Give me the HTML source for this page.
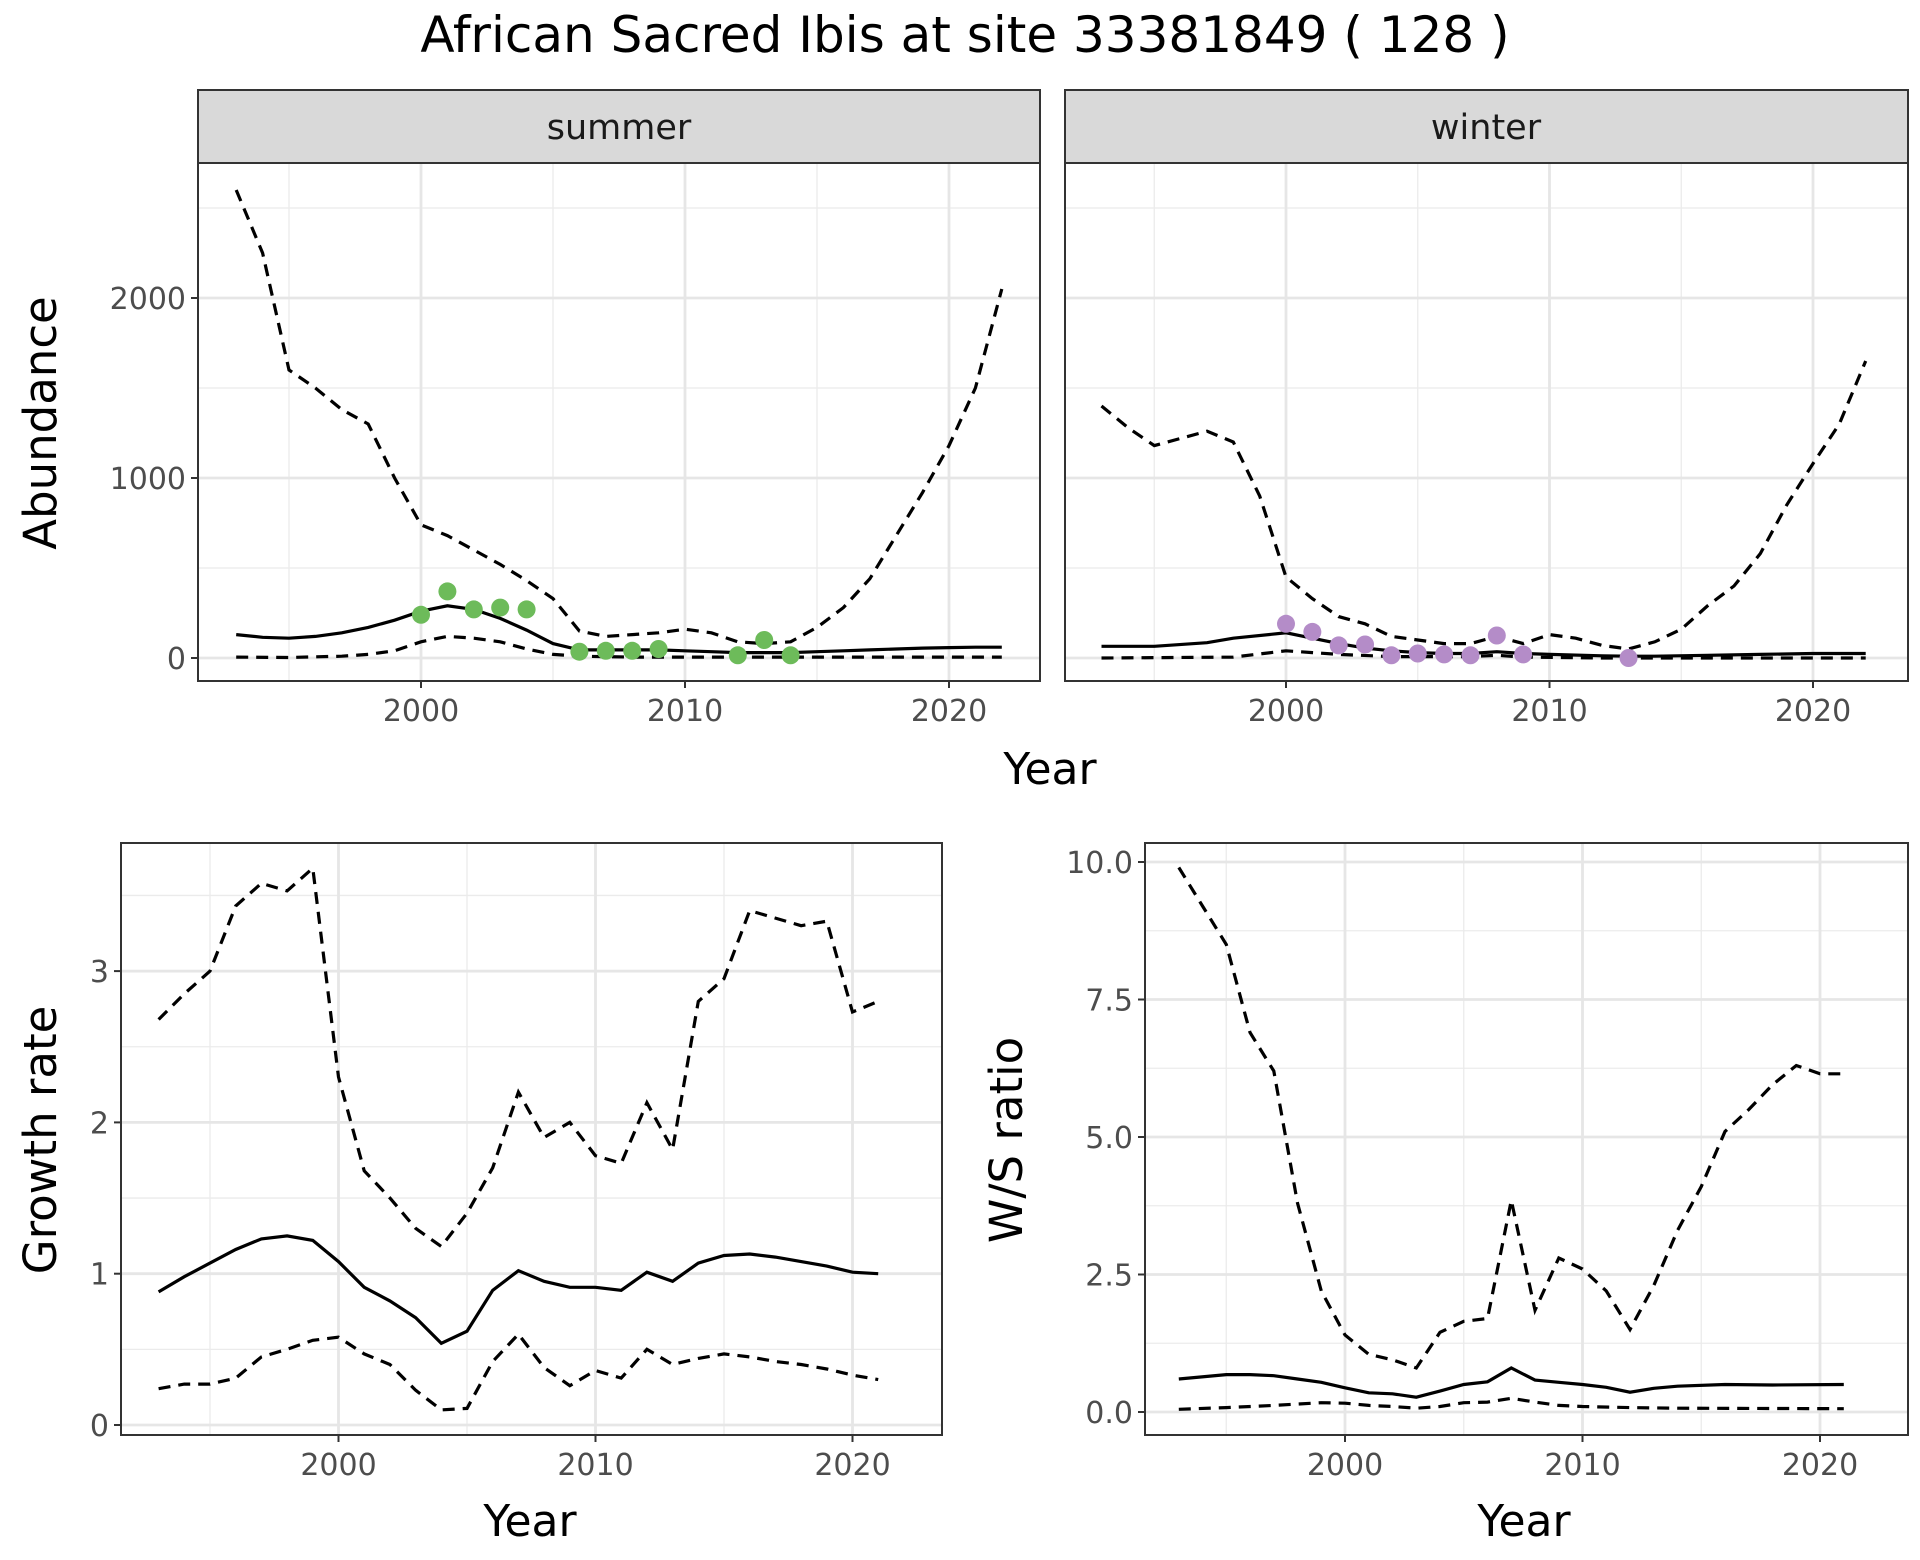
<!DOCTYPE html>
<html><head><meta charset="utf-8"><style>
html,body{margin:0;padding:0;background:#fff}
svg{display:block}
text{font-family:"DejaVu Sans","Liberation Sans",sans-serif}
</style></head><body>
<svg id="s" width="1920" height="1560" viewBox="0 0 1920 1560" xmlns="http://www.w3.org/2000/svg">
<rect width="1920" height="1560" fill="#fff"/>
<text x="965" y="52" font-size="50" text-anchor="middle" fill="#000">African Sacred Ibis at site 33381849 ( 128 )</text>
</svg>
<script>
(function(){
const S=document.getElementById('s');let out='';
function P(o){
 const {L,R,T,B,x0,xs,y0,ys,xmaj,xmin,ymaj,ymin,ylab,xlab,ytitle,ytx,xtx,xty,series,pts,pcol,noY}=o;
 const X=v=>x0+(v-2000)*xs, Y=v=>y0-v*ys;
 out+=`<rect x="${L}" y="${T}" width="${R-L}" height="${B-T}" fill="#fff"/>`;
 for(const v of xmin){out+=`<line x1="${X(v)}" x2="${X(v)}" y1="${T}" y2="${B}" stroke="#ebebeb" stroke-width="1.3"/>`}
 for(const v of ymin){out+=`<line x1="${L}" x2="${R}" y1="${Y(v)}" y2="${Y(v)}" stroke="#ebebeb" stroke-width="1.3"/>`}
 for(const v of xmaj){out+=`<line x1="${X(v)}" x2="${X(v)}" y1="${T}" y2="${B}" stroke="#e6e6e6" stroke-width="2.8"/>`;
  out+=`<line x1="${X(v)}" x2="${X(v)}" y1="${B}" y2="${B+7}" stroke="#333" stroke-width="2"/>`;
  out+=`<text x="${X(v)}" y="${B+40}" font-size="30" fill="#4d4d4d" text-anchor="middle">${v}</text>`}
 ymaj.forEach((v,i)=>{out+=`<line x1="${L}" x2="${R}" y1="${Y(v)}" y2="${Y(v)}" stroke="#e6e6e6" stroke-width="2.8"/>`;
  if(!noY){out+=`<line x1="${L-7}" x2="${L}" y1="${Y(v)}" y2="${Y(v)}" stroke="#333" stroke-width="2"/>`;
  out+=`<text x="${L-12}" y="${Y(v)+11}" font-size="30" fill="#4d4d4d" text-anchor="end">${ylab[i]}</text>`}});
 for(const [d,dash] of series){
  const ks=Object.keys(d).map(Number).sort((a,b)=>a-b);
  out+=`<polyline fill="none" stroke="#000" stroke-width="3.2" ${dash?'stroke-dasharray="12,8"':''} points="${ks.map(k=>X(k).toFixed(1)+','+Y(d[k]).toFixed(1)).join(' ')}"/>`}
 if(pts)for(const k in pts){out+=`<circle cx="${X(+k)}" cy="${Y(pts[k])}" r="9" fill="${pcol}"/>`}
 out+=`<rect x="${L}" y="${T}" width="${R-L}" height="${B-T}" fill="none" stroke="#333" stroke-width="2"/>`;
 if(xlab)out+=`<text x="${xtx}" y="${xty}" font-size="44" text-anchor="middle">${xlab}</text>`;
 if(ytitle)out+=`<text transform="translate(${ytx[0]},${ytx[1]}) rotate(-90)" font-size="45" text-anchor="middle">${ytitle}</text>`;
}
const xmaj=[2000,2010,2020],xmin=[1995,2005,2015];
const sU={1993:2600,1994:2250,1995:1600,1996:1500,1997:1380,1998:1300,1999:1000,2000:740,2001:680,2002:600,2003:520,2004:430,2005:330,2006:150,2007:120,2008:130,2009:140,2010:160,2011:140,2012:90,2013:80,2014:90,2015:170,2016:280,2017:440,2018:680,2019:920,2020:1180,2021:1500,2022:2050};
const sM={1993:130,1994:115,1995:110,1996:120,1997:140,1998:170,1999:210,2000:260,2001:290,2002:270,2003:220,2004:155,2005:80,2006:45,2007:45,2008:45,2009:45,2010:40,2011:35,2012:30,2013:30,2014:30,2015:35,2016:40,2017:45,2018:50,2019:55,2020:58,2021:60,2022:60};
const sL={1993:5,1995:3,1997:10,1998:20,1999:40,2000:90,2001:120,2002:110,2003:90,2004:50,2005:20,2006:10,2008:5,2022:5};
const sP={2000:240,2001:370,2002:270,2003:280,2004:270,2006:35,2007:40,2008:40,2009:50,2012:15,2013:100,2014:15};
const wU={1993:1400,1994:1280,1995:1180,1996:1220,1997:1260,1998:1200,1999:900,2000:450,2001:330,2002:230,2003:190,2004:120,2005:100,2006:80,2007:80,2008:120,2009:80,2010:130,2011:110,2012:70,2013:50,2014:90,2015:160,2016:290,2017:400,2018:580,2019:850,2020:1080,2021:1300,2022:1650};
const wM={1993:65,1995:65,1997:85,1998:110,2000:140,2001:110,2002:80,2003:55,2004:40,2005:30,2006:25,2007:25,2008:35,2009:25,2010:20,2012:12,2013:10,2014:10,2016:15,2018:20,2020:25,2022:25};
const wL={1993:0,1998:5,2000:40,2001:30,2002:20,2004:8,2007:8,2008:15,2009:5,2012:0,2022:0};
const wP={2000:190,2001:145,2002:70,2003:75,2004:15,2005:25,2006:20,2007:15,2008:125,2009:20,2013:0};
const tp={T:163,B:681,y0:658,ys:0.18,xmaj,xmin,ymaj:[0,1000,2000],ymin:[500,1500,2500],ylab:['0','1000','2000']};
out+=`<rect x="198" y="90" width="842" height="73" fill="#d9d9d9" stroke="#333" stroke-width="2"/><text x="619" y="139" font-size="35" fill="#1a1a1a" text-anchor="middle">summer</text>`;
out+=`<rect x="1065" y="90" width="843" height="73" fill="#d9d9d9" stroke="#333" stroke-width="2"/><text x="1486" y="139" font-size="35" fill="#1a1a1a" text-anchor="middle">winter</text>`;
P(Object.assign({},tp,{L:198,R:1040,x0:421,xs:26.4,series:[[sU,1],[sM,0],[sL,1]],pts:sP,pcol:'#6dbb5a',ytitle:'Abundance',ytx:[56,423]}));
P(Object.assign({},tp,{L:1065,R:1908,x0:1286,xs:26.35,series:[[wU,1],[wM,0],[wL,1]],pts:wP,pcol:'#b48cc8',noY:1,xlab:'Year',xtx:1050,xty:784}));
const gU={1993:2.68,1994:2.85,1995:3.0,1996:3.43,1997:3.58,1998:3.53,1999:3.68,2000:2.3,2001:1.68,2002:1.5,2003:1.3,2004:1.18,2005:1.4,2006:1.7,2007:2.2,2008:1.9,2009:2.0,2010:1.78,2011:1.73,2012:2.13,2013:1.82,2014:2.8,2015:2.95,2016:3.4,2017:3.35,2018:3.3,2019:3.33,2020:2.73,2021:2.8};
const gM={1993:.88,1994:.98,1995:1.07,1996:1.16,1997:1.23,1998:1.25,1999:1.22,2000:1.08,2001:.91,2002:.82,2003:.71,2004:.54,2005:.62,2006:.89,2007:1.02,2008:.95,2009:.91,2010:.91,2011:.89,2012:1.01,2013:.95,2014:1.07,2015:1.12,2016:1.13,2017:1.11,2018:1.08,2019:1.05,2020:1.01,2021:1.0};
const gL={1993:.24,1994:.27,1995:.27,1996:.31,1997:.45,1998:.5,1999:.56,2000:.58,2001:.47,2002:.4,2003:.23,2004:.1,2005:.11,2006:.42,2007:.6,2008:.38,2009:.26,2010:.36,2011:.31,2012:.5,2013:.4,2014:.44,2015:.47,2016:.45,2017:.42,2018:.4,2019:.37,2020:.33,2021:.3};
P({L:121,R:942,T:843,B:1435,x0:338.5,xs:25.7,y0:1425,ys:151.3,xmaj,xmin,ymaj:[0,1,2,3],ymin:[.5,1.5,2.5,3.5],ylab:['0','1','2','3'],series:[[gU,1],[gM,0],[gL,1]],xlab:'Year',xtx:530,xty:1536,ytitle:'Growth rate',ytx:[56,1140]});
const rU={1993:9.9,1994:9.2,1995:8.5,1996:6.9,1997:6.2,1998:3.8,1999:2.2,2000:1.4,2001:1.05,2002:.95,2003:.8,2004:1.45,2005:1.65,2006:1.7,2007:3.85,2008:1.85,2009:2.8,2010:2.6,2011:2.2,2012:1.5,2013:2.3,2014:3.3,2015:4.1,2016:5.1,2017:5.5,2018:5.95,2019:6.3,2020:6.15,2021:6.15};
const rM={1993:.6,1995:.68,1996:.68,1997:.66,1998:.6,1999:.54,2000:.44,2001:.35,2002:.33,2003:.27,2004:.38,2005:.5,2006:.55,2007:.8,2008:.58,2009:.54,2010:.5,2011:.45,2012:.36,2013:.43,2014:.47,2016:.5,2018:.49,2021:.5};
const rL={1993:.05,1995:.08,1997:.12,1999:.17,2000:.16,2001:.12,2002:.1,2003:.07,2004:.1,2005:.17,2006:.18,2007:.25,2008:.18,2009:.12,2010:.1,2012:.08,2014:.07,2021:.06};
P({L:1145,R:1908,T:843,B:1435,x0:1345,xs:23.75,y0:1412,ys:55,xmaj,xmin,ymaj:[0,2.5,5,7.5,10],ymin:[1.25,3.75,6.25,8.75],ylab:['0.0','2.5','5.0','7.5','10.0'],series:[[rU,1],[rM,0],[rL,1]],xlab:'Year',xtx:1524,xty:1536,ytitle:'W/S ratio',ytx:[1022,1140]});
S.insertAdjacentHTML('beforeend',out);
})();
</script>
</body></html>
